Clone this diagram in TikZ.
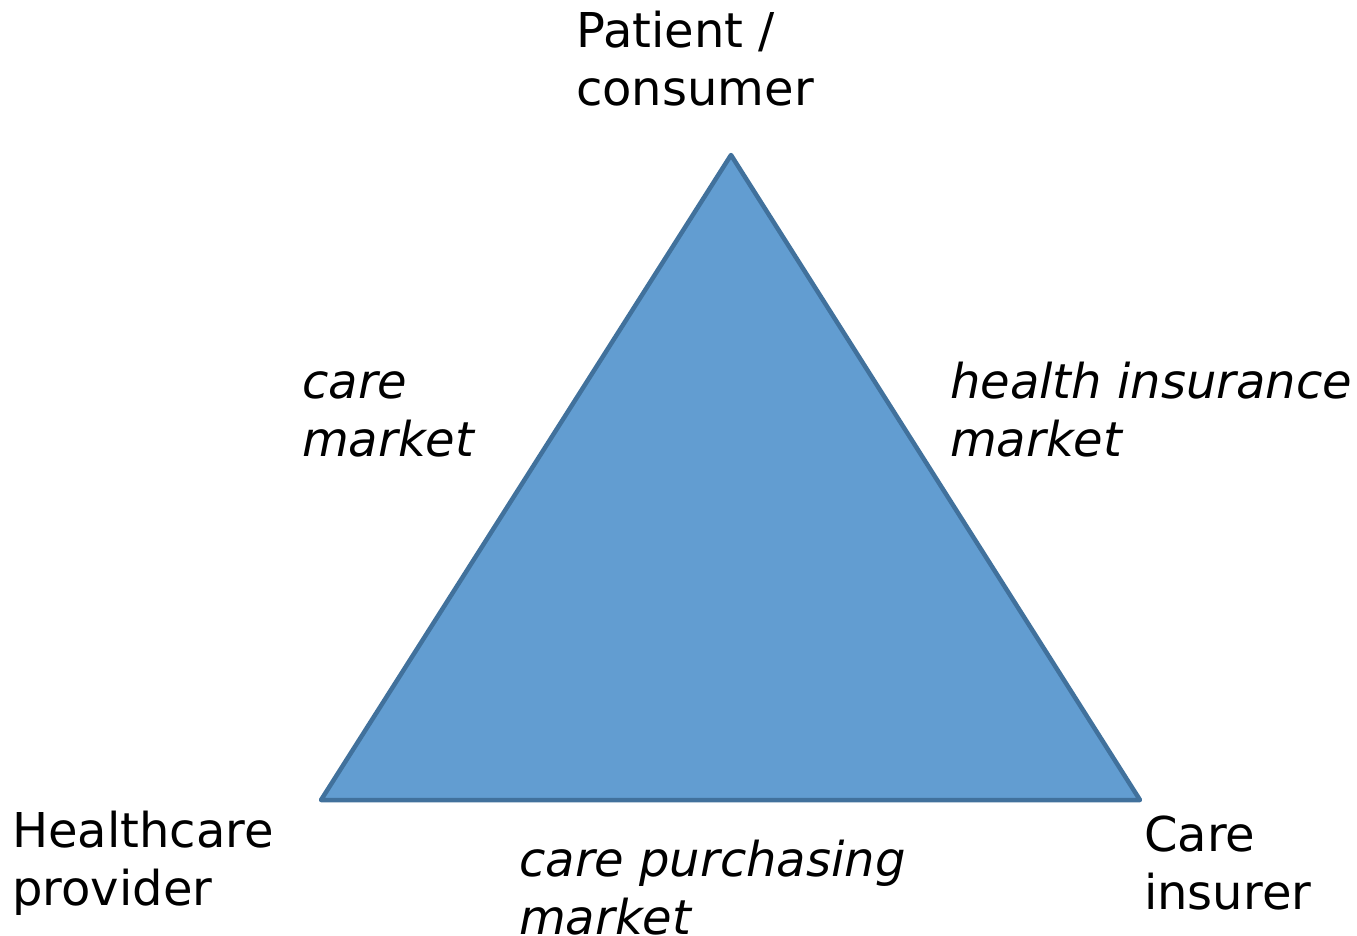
\documentclass[tikz,border=0pt]{standalone}
\usepackage{fontspec}
\setmainfont{DejaVu Sans}
\definecolor{triFill}{HTML}{629DD1}
\definecolor{triEdge}{HTML}{41719C}
\begin{document}
\begin{tikzpicture}[x=1pt,y=-1pt,
  lbl/.style={anchor=base west, inner sep=0pt, align=left,
              font=\fontsize{48}{58}\selectfont},
  mkt/.style={lbl, font=\fontsize{48}{58}\selectfont\itshape}]
\useasboundingbox (0,0) rectangle (1357,935);
% corners of the market triangle
\coordinate (top) at (731,155);
\coordinate (left) at (321,800);
\coordinate (right) at (1140,800);
\draw[triEdge, fill=triFill, line width=4.5pt, line join=round]
  (top) -- (right) -- (left) -- cycle;
% actors at the corners (positions give the last line's baseline)
\node[lbl] (patient) at (576,105) {Patient /\\consumer};
\node[lbl] (provider) at (12,905) {Healthcare\\provider};
\node[lbl] (insurer) at (1144,909) {Care\\insurer};
% markets along the sides
\node[mkt] (caremkt) at (302,456) {care\\market};
\node[mkt] (insmkt) at (950,456) {health insurance\\market};
\node[mkt] (purchmkt) at (519,934) {care purchasing\\market};
\end{tikzpicture}
\end{document}
